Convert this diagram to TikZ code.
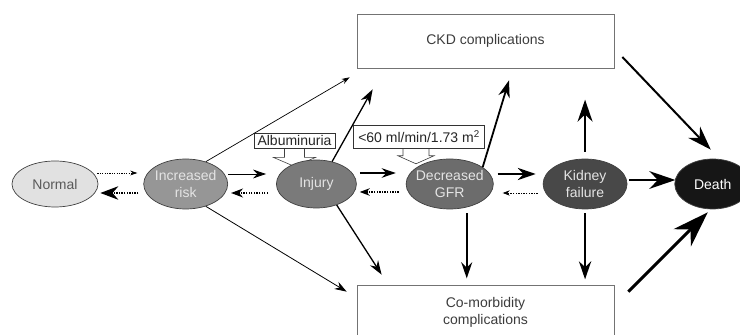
\documentclass[tikz,border=0pt]{standalone}
\usepackage{fontspec}
\setmainfont{Liberation Sans}
\usetikzlibrary{positioning,calc,arrows.meta,shapes.geometric,backgrounds}
\definecolor{normalGray}{RGB}{225,225,225}
\definecolor{riskGray}{RGB}{150,150,150}
\definecolor{injuryGray}{RGB}{122,122,122}
\definecolor{gfrGray}{RGB}{108,108,108}
\definecolor{failGray}{RGB}{72,72,72}
\definecolor{deathGray}{RGB}{22,22,22}
\definecolor{paleText}{RGB}{228,228,228}
\definecolor{boxText}{RGB}{60,60,60}

\begin{document}
\begin{tikzpicture}[
    x=1pt, y=1pt,
    stage/.style={ellipse, draw=black!75, line width=0.7pt, minimum height=50pt, inner xsep=-3pt, inner ysep=0pt, align=center, font=\fontsize{14}{16.5}\selectfont},
    outcome/.style={draw=black!55, line width=0.7pt, minimum width=257pt, minimum height=54pt, align=center, text=boxText, font=\fontsize{14}{17.5}\selectfont},
    marker/.style={draw=black!80, line width=0.6pt, fill=white, inner xsep=3.5pt, inner ysep=2.5pt, text=black!85, font=\fontsize{14}{16}\selectfont},
    hollow/.style={draw=black!75, line width=0.6pt, fill=white},
    arr/.style={-{Stealth[length=#1, width'=0pt 0.68]}},
    back/.style={-{Stealth[length=#1, width'=0pt 0.75]}, dash pattern=on 1.3pt off 1.3pt, line width=1.2pt},
]
\useasboundingbox (0,0) rectangle (740,335);

% Stages row
\node[stage, fill=normalGray, text=black!65, minimum width=86pt, minimum height=46pt] (norm) at (55,151) {Normal};
\node[stage, fill=riskGray, text=paleText, minimum width=84pt, right=45pt of norm] (risk) {Increased\\risk};
\node[stage, fill=injuryGray, text=paleText, minimum width=80pt, minimum height=48pt, right=48pt of risk] (inj) {Injury};
\node[stage, fill=gfrGray, text=paleText, minimum width=82pt, right=49pt of inj] (gfr) {Decreased\\GFR};
\node[stage, fill=failGray, text=paleText, minimum width=84pt, right=49pt of gfr] (kf) {Kidney\\failure};
\node[stage, fill=deathGray, text=white, minimum width=76pt, right=47pt of kf] (death) {Death};

% Outcome boxes
\node[outcome] (ckd) at (485.5,294) {CKD complications};
\node[outcome, minimum height=55pt] (como) at (485.5,22.5) {Co-morbidity\\complications};

% Markers
\node[marker] (alb) at (294.5,194.5) {Albuminuria};
\node[marker, minimum height=23pt, inner xsep=4.5pt] (lim) at (419,198) {<60 ml/min/1.73 m\textsuperscript{2}};
\begin{scope}[on background layer]
\draw[hollow, shift={(alb.south)}] (-10,0) -- (-10,-9) -- (-21,-9) -- (0,-18) -- (21,-9) -- (10,-9) -- (10,0);
\draw[hollow, shift={(lim.south)}] (-16,0) -- (-16,-7) -- (-21,-7) -- (-3,-15) -- (15,-7) -- (10,-7) -- (10,0);
\end{scope}

% Forward along the row
\draw[arr=7pt, dash pattern=on 1.2pt off 1.2pt, line width=0.7pt] ($(norm.east)+(-1,11)$) -- ($(risk.west)+(-6,11)$);
\draw[arr=13pt, line width=0.8pt] ($(risk.east)+(0,10)$) -- ($(inj.west)+(-10,10)$);
\draw[arr=14pt, line width=1.4pt] ($(inj.east)+(3,11)$) -- ($(gfr.west)+(-10,11)$);
\draw[arr=18pt, line width=2pt] ($(gfr.east)+(4,10)$) -- ($(kf.west)+(-7,10)$);
\draw[arr=26pt, line width=2.4pt] ($(kf.east)+(2,4)$) -- ($(death.west)+(1,4)$);

% Back along the row
\draw[back=18pt] ($(risk.west)+(-5,-9)$) -- ($(norm.east)+(2,-9)$);
\draw[back=12pt] ($(inj.west)+(-8,-9)$) -- ($(risk.east)+(3,-9)$);
\draw[back=10pt] ($(gfr.west)+(-7,-8)$) -- ($(inj.east)+(3,-8)$);
\draw[back=7pt, line width=0.8pt] ($(kf.west)+(-5,-9)$) -- ($(gfr.east)+(9,-9)$);

% To the complications
\draw[arr=8pt, line width=0.7pt] (risk.48) -- ($(ckd.south west)+(-7,-9)$);
\draw[arr=12pt, line width=0.8pt] (risk.-48) -- ($(como.north west)+(-10,-7)$);
\draw[arr=15pt, line width=1.3pt] (inj.55) -- ($(ckd.south west)+(16,-21)$);
\draw[arr=14pt, line width=1.3pt] (inj.-46) -- ($(como.north west)+(25,10)$);
\draw[arr=17pt, line width=1.8pt] (gfr.27) -- ($(ckd.south)+(23.5,-12)$);
\draw[arr=16pt, line width=1.8pt] ($(gfr.south)+(17,-4)$) -- ++(0,-65);
\draw[arr=22pt, line width=2.2pt] ($(kf.north)+(0,7)$) -- ++(0,52);
\draw[arr=18pt, line width=2.2pt] ($(kf.south)+(0,-4)$) -- ++(0,-66);

% To death
\draw[arr=24pt, line width=2pt] ($(ckd.east)+(8,-16)$) -- ($(death.north)+(-2,9)$);
\draw[arr=36pt, line width=3pt] ($(como.north east)+(14,-7)$) -- ($(death.south)+(-5,-3)$);
\end{tikzpicture}
\end{document}
